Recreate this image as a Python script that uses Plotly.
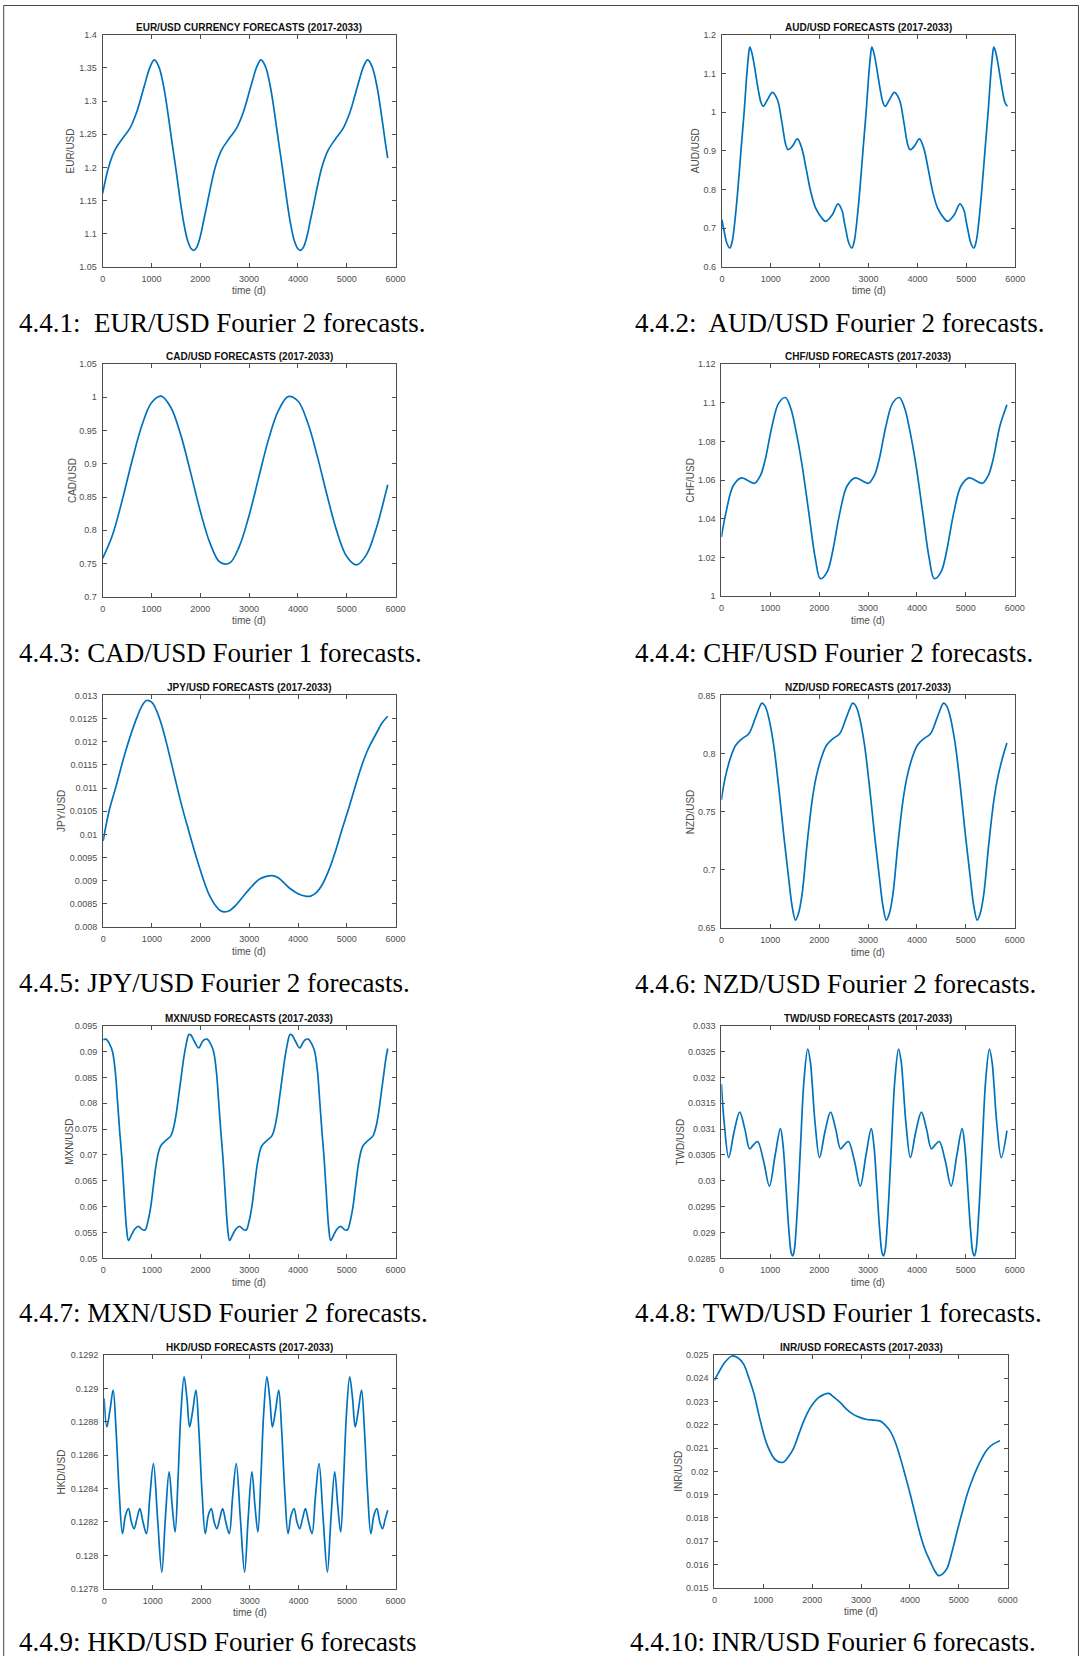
import plotly.graph_objects as go

# figure size and the measured placement of the figure on the captured page
W, H = 1089, 1661
SX, OX = 0.9885, 2.3
SY, OY = 0.993, 5.3

# ---------------- data (time in days, rate in USD) ----------------
day_ticks = [0, 1000, 2000, 3000, 4000, 5000, 6000]
day_labels = ["0", "1000", "2000", "3000", "4000", "5000", "6000"]

eur_t = [0, 120, 250, 400, 550, 700, 850, 980, 1060, 1150, 1250, 1340, 1420, 1500, 1580, 1660, 1740, 1820, 1870, 1930, 2000, 2070, 2130,
         2185, 2305, 2435, 2585, 2735, 2885, 3035, 3165, 3245, 3335, 3435, 3525, 3605, 3685, 3765, 3845, 3925, 4005, 4055, 4115, 4185, 4255, 4315,
         4370, 4490, 4620, 4770, 4920, 5070, 5220, 5350, 5430, 5520, 5620, 5710, 5790, 5840]
eur_v = [1.161, 1.200, 1.226, 1.243, 1.258, 1.284, 1.322, 1.353, 1.362, 1.352, 1.322, 1.280, 1.238, 1.198, 1.155, 1.117, 1.090, 1.077, 1.075, 1.080, 1.096, 1.120, 1.141,
         1.161, 1.200, 1.226, 1.243, 1.258, 1.284, 1.322, 1.353, 1.362, 1.352, 1.322, 1.280, 1.238, 1.198, 1.155, 1.117, 1.090, 1.077, 1.075, 1.080, 1.096, 1.120, 1.141,
         1.161, 1.200, 1.226, 1.243, 1.258, 1.284, 1.322, 1.353, 1.362, 1.352, 1.322, 1.280, 1.238, 1.214]
eur_ticks = [1.05, 1.1, 1.15, 1.2, 1.25, 1.3, 1.35, 1.4]
eur_labels = ["1.05", "1.1", "1.15", "1.2", "1.25", "1.3", "1.35", "1.4"]

aud_t = [0, 50, 100, 163, 210, 250, 320, 390, 455, 505, 540, 571, 610, 660, 748, 800, 844, 932, 1034, 1136, 1224, 1306, 1354, 1442, 1544, 1633, 1728, 1816, 1918, 2054, 2122, 2259, 2374, 2463,
         2495, 2545, 2595, 2658, 2705, 2745, 2815, 2885, 2950, 3000, 3035, 3066, 3105, 3155, 3243, 3295, 3339, 3427, 3529, 3631, 3719, 3801, 3849, 3937, 4039, 4128, 4223, 4311, 4413, 4549, 4617, 4754, 4869, 4958,
         4990, 5040, 5090, 5153, 5200, 5240, 5310, 5380, 5445, 5495, 5530, 5561, 5600, 5650, 5738, 5790, 5840]
aud_v = [0.722, 0.690, 0.662, 0.649, 0.665, 0.700, 0.790, 0.900, 1.000, 1.090, 1.140, 1.168, 1.155, 1.123, 1.055, 1.025, 1.015, 1.032, 1.051, 1.032, 0.976, 0.916, 0.903, 0.912, 0.931, 0.907, 0.851, 0.795, 0.752, 0.725, 0.718, 0.735, 0.763, 0.744,
         0.722, 0.690, 0.662, 0.649, 0.665, 0.700, 0.790, 0.900, 1.000, 1.090, 1.140, 1.168, 1.155, 1.123, 1.055, 1.025, 1.015, 1.032, 1.051, 1.032, 0.976, 0.916, 0.903, 0.912, 0.931, 0.907, 0.851, 0.795, 0.752, 0.725, 0.718, 0.735, 0.763, 0.744,
         0.722, 0.690, 0.662, 0.649, 0.665, 0.700, 0.790, 0.900, 1.000, 1.090, 1.140, 1.168, 1.155, 1.123, 1.055, 1.025, 1.015]
aud_ticks = [0.6, 0.7, 0.8, 0.9, 1.0, 1.1, 1.2]
aud_labels = ["0.6", "0.7", "0.8", "0.9", "1", "1.1", "1.2"]

cad_t = [0, 200, 400, 600, 800, 1000, 1200, 1400, 1600, 1800, 2000, 2200, 2400, 2600, 2800, 3000, 3200, 3400, 3600, 3800,
         4000, 4200, 4400, 4600, 4800, 5000, 5200, 5400, 5600, 5800, 5840]
cad_v = [0.7577, 0.7925, 0.8450, 0.9039, 0.9567, 0.9918, 1.0017, 0.9843, 0.9435, 0.8875, 0.8290, 0.7806, 0.7524, 0.7507, 0.7759, 0.8223,
         0.8803, 0.9371, 0.9798, 1.0011, 0.9944, 0.9620, 0.9108, 0.8519, 0.7980, 0.7606, 0.7480, 0.7627, 0.8015, 0.8566, 0.8685]
cad_ticks = [0.7, 0.75, 0.8, 0.85, 0.9, 0.95, 1.0, 1.05]
cad_labels = ["0.7", "0.75", "0.8", "0.85", "0.9", "0.95", "1", "1.05"]

chf_t = [0, 100, 240, 410, 540, 680, 800, 900, 1036, 1172, 1309, 1420, 1513, 1650, 1786, 1922, 2025, 2161, 2297,
         2330, 2430, 2570, 2740, 2870, 3010, 3130, 3230, 3366, 3502, 3639, 3750, 3843, 3980, 4116, 4252, 4355, 4491, 4627,
         4660, 4760, 4900, 5070, 5200, 5340, 5460, 5560, 5696, 5840]
chf_v = [1.0306, 1.0440, 1.0570, 1.0612, 1.0598, 1.0584, 1.0625, 1.0710, 1.0880, 1.0998, 1.1027, 1.0970, 1.0870, 1.0678, 1.0436, 1.0194, 1.0091, 1.0125, 1.0260,
         1.0306, 1.0440, 1.0570, 1.0612, 1.0598, 1.0584, 1.0625, 1.0710, 1.0880, 1.0998, 1.1027, 1.0970, 1.0870, 1.0678, 1.0436, 1.0194, 1.0091, 1.0125, 1.0260,
         1.0306, 1.0440, 1.0570, 1.0612, 1.0598, 1.0584, 1.0625, 1.0710, 1.0880, 1.0990]
chf_ticks = [1.0, 1.02, 1.04, 1.06, 1.08, 1.1, 1.12]
chf_labels = ["1", "1.02", "1.04", "1.06", "1.08", "1.1", "1.12"]

jpy_t = [0, 120, 260, 465, 670, 800, 890, 1000, 1100, 1200, 1300, 1450, 1600, 1750, 1900, 2050, 2174, 2300, 2400, 2502, 2600, 2730, 2857, 3000,
         3199, 3330, 3473, 3600, 3815, 4000, 4150, 4258, 4380, 4498, 4640, 4771, 4900, 5044, 5180, 5318, 5450, 5591, 5720, 5840]
jpy_v = [0.00986, 0.01050, 0.01102, 0.01181, 0.01246, 0.01278, 0.01289, 0.01285, 0.01266, 0.01236, 0.01197, 0.01132, 0.01067, 0.01010, 0.00955, 0.00905,
         0.00870, 0.00847, 0.00836, 0.00833, 0.00836, 0.00848, 0.00864, 0.00882, 0.00903, 0.00909, 0.00911, 0.00906, 0.00885, 0.00872, 0.00867, 0.00867,
         0.00875, 0.00892, 0.00925, 0.00965, 0.01010, 0.01058, 0.01106, 0.01152, 0.01187, 0.01215, 0.01240, 0.01255]
jpy_ticks = [0.008, 0.0085, 0.009, 0.0095, 0.01, 0.0105, 0.011, 0.0115, 0.012, 0.0125, 0.013]
jpy_labels = ["0.008", "0.0085", "0.009", "0.0095", "0.01", "0.0105", "0.011", "0.0115", "0.012", "0.0125", "0.013"]

nzd_t = [0, 80, 180, 290, 420, 560, 690, 780, 830, 890, 950, 1060, 1170, 1270, 1370, 1450, 1515, 1580, 1650, 1752,
         1858, 1938, 2038, 2148, 2278, 2418, 2548, 2638, 2688, 2748, 2808, 2918, 3028, 3128, 3228, 3308, 3373, 3438, 3508, 3610,
         3716, 3796, 3896, 4006, 4136, 4276, 4406, 4496, 4546, 4606, 4666, 4776, 4886, 4986, 5086, 5166, 5231, 5296, 5366, 5468,
         5574, 5654, 5754, 5840]
nzd_v = [0.7602, 0.7797, 0.7955, 0.8070, 0.8127, 0.8170, 0.8300, 0.8400, 0.8434, 0.8410, 0.8340, 0.8100, 0.7720, 0.7320, 0.6950, 0.6680, 0.6569, 0.6630, 0.6790, 0.7220,
         0.7602, 0.7797, 0.7955, 0.8070, 0.8127, 0.8170, 0.8300, 0.8400, 0.8434, 0.8410, 0.8340, 0.8100, 0.7720, 0.7320, 0.6950, 0.6680, 0.6569, 0.6630, 0.6790, 0.7220,
         0.7602, 0.7797, 0.7955, 0.8070, 0.8127, 0.8170, 0.8300, 0.8400, 0.8434, 0.8410, 0.8340, 0.8100, 0.7720, 0.7320, 0.6950, 0.6680, 0.6569, 0.6630, 0.6790, 0.7220,
         0.7602, 0.7797, 0.7970, 0.8090]
nzd_ticks = [0.65, 0.7, 0.75, 0.8, 0.85]
nzd_labels = ["0.65", "0.7", "0.75", "0.8", "0.85"]

mxn_t = [0, 60, 130, 191, 250, 294, 340, 383, 420, 450, 480, 519, 580, 650, 724, 800, 861, 920, 977, 1030, 1080, 1130, 1183, 1285, 1388, 1450, 1500, 1550, 1600, 1650, 1700, 1760, 1800, 1866, 1960, 2030,
         2075, 2135, 2205, 2266, 2325, 2369, 2415, 2458, 2495, 2525, 2555, 2594, 2655, 2725, 2799, 2875, 2936, 2995, 3052, 3105, 3155, 3205, 3258, 3360, 3463, 3525, 3575, 3625, 3675, 3725, 3775, 3835, 3875, 3941, 4035, 4105,
         4150, 4210, 4280, 4341, 4400, 4444, 4490, 4533, 4570, 4600, 4630, 4669, 4730, 4800, 4874, 4950, 5011, 5070, 5127, 5180, 5230, 5280, 5333, 5435, 5538, 5600, 5650, 5700, 5750, 5800, 5840]
mxn_v = [0.0923, 0.0924, 0.0915, 0.0900, 0.0860, 0.0805, 0.0745, 0.0695, 0.0640, 0.0595, 0.0558, 0.0535, 0.0545, 0.0557, 0.0562, 0.0556, 0.0555, 0.0572, 0.0600, 0.0640,
         0.0677, 0.0703, 0.0718, 0.0728, 0.0737, 0.0755, 0.0780, 0.0815, 0.0850, 0.0885, 0.0912, 0.0933, 0.0932, 0.0921, 0.0907, 0.0918,
         0.0923, 0.0924, 0.0915, 0.0900, 0.0860, 0.0805, 0.0745, 0.0695, 0.0640, 0.0595, 0.0558, 0.0535, 0.0545, 0.0557, 0.0562, 0.0556, 0.0555, 0.0572, 0.0600, 0.0640,
         0.0677, 0.0703, 0.0718, 0.0728, 0.0737, 0.0755, 0.0780, 0.0815, 0.0850, 0.0885, 0.0912, 0.0933, 0.0932, 0.0921, 0.0907, 0.0918,
         0.0923, 0.0924, 0.0915, 0.0900, 0.0860, 0.0805, 0.0745, 0.0695, 0.0640, 0.0595, 0.0558, 0.0535, 0.0545, 0.0557, 0.0562, 0.0556, 0.0555, 0.0572, 0.0600, 0.0640,
         0.0677, 0.0703, 0.0718, 0.0728, 0.0737, 0.0755, 0.0780, 0.0815, 0.0850, 0.0885, 0.0906]
mxn_ticks = [0.05, 0.055, 0.06, 0.065, 0.07, 0.075, 0.08, 0.085, 0.09, 0.095]
mxn_labels = ["0.05", "0.055", "0.06", "0.065", "0.07", "0.075", "0.08", "0.085", "0.09", "0.095"]

twd_t = [0, 60, 150, 260, 375, 480, 580, 660, 740, 860, 982, 1100, 1207, 1260, 1320, 1380, 1430, 1459, 1490, 1550, 1620, 1690, 1766, 1820,
         1858, 1918, 2008, 2118, 2233, 2338, 2438, 2518, 2598, 2718, 2840, 2958, 3065, 3118, 3178, 3238, 3288, 3317, 3348, 3408, 3478, 3548, 3624, 3678,
         3716, 3776, 3866, 3976, 4091, 4196, 4296, 4376, 4456, 4576, 4698, 4816, 4923, 4976, 5036, 5096, 5146, 5175, 5206, 5266, 5336, 5406, 5482, 5536,
         5574, 5634, 5724, 5840]
twd_v = [0.03187, 0.03110, 0.03045, 0.03095, 0.03133, 0.03100, 0.03062, 0.03070, 0.03076, 0.03040, 0.02990, 0.03050, 0.03101, 0.03070, 0.02990, 0.02905, 0.02860, 0.02855, 0.02865, 0.02940, 0.03070, 0.03195, 0.03255, 0.03230,
         0.03187, 0.03110, 0.03045, 0.03095, 0.03133, 0.03100, 0.03062, 0.03070, 0.03076, 0.03040, 0.02990, 0.03050, 0.03101, 0.03070, 0.02990, 0.02905, 0.02860, 0.02855, 0.02865, 0.02940, 0.03070, 0.03195, 0.03255, 0.03230,
         0.03187, 0.03110, 0.03045, 0.03095, 0.03133, 0.03100, 0.03062, 0.03070, 0.03076, 0.03040, 0.02990, 0.03050, 0.03101, 0.03070, 0.02990, 0.02905, 0.02860, 0.02855, 0.02865, 0.02940, 0.03070, 0.03195, 0.03255, 0.03230,
         0.03187, 0.03110, 0.03045, 0.03097]
twd_ticks = [0.0285, 0.029, 0.0295, 0.03, 0.0305, 0.031, 0.0315, 0.032, 0.0325, 0.033]
twd_labels = ["0.0285", "0.029", "0.0295", "0.03", "0.0305", "0.031", "0.0315", "0.032", "0.0325", "0.033"]

hkd_t = [0, 55, 120, 185, 245, 310, 377, 440, 501, 560, 617, 675, 734, 800, 871, 940, 1015, 1100, 1187, 1260, 1337, 1400, 1461, 1520, 1580, 1646,
         1705, 1760, 1825, 1890, 1950, 2015, 2082, 2145, 2206, 2265, 2322, 2380, 2439, 2505, 2576, 2645, 2720, 2805, 2892, 2965, 3042, 3105, 3166, 3225, 3285, 3351,
         3410, 3465, 3530, 3595, 3655, 3720, 3787, 3850, 3911, 3970, 4027, 4085, 4144, 4210, 4281, 4350, 4425, 4510, 4597, 4670, 4747, 4810, 4871, 4930, 4990, 5056,
         5115, 5170, 5235, 5300, 5360, 5425, 5492, 5555, 5616, 5675, 5732, 5790, 5840]
hkd_v = [0.12894, 0.12877, 0.12887, 0.12899, 0.12875, 0.12838, 0.12813, 0.12824, 0.12828, 0.12820, 0.12816, 0.12822, 0.12828, 0.12820, 0.12813, 0.12835, 0.12855, 0.12822, 0.12790, 0.12822, 0.12850, 0.12830, 0.12814, 0.12845, 0.12885, 0.12907,
         0.12894, 0.12877, 0.12887, 0.12899, 0.12875, 0.12838, 0.12813, 0.12824, 0.12828, 0.12820, 0.12816, 0.12822, 0.12828, 0.12820, 0.12813, 0.12835, 0.12855, 0.12822, 0.12790, 0.12822, 0.12850, 0.12830, 0.12814, 0.12845, 0.12885, 0.12907,
         0.12894, 0.12877, 0.12887, 0.12899, 0.12875, 0.12838, 0.12813, 0.12824, 0.12828, 0.12820, 0.12816, 0.12822, 0.12828, 0.12820, 0.12813, 0.12835, 0.12855, 0.12822, 0.12790, 0.12822, 0.12850, 0.12830, 0.12814, 0.12845, 0.12885, 0.12907,
         0.12894, 0.12877, 0.12887, 0.12899, 0.12875, 0.12838, 0.12813, 0.12824, 0.12828, 0.12820, 0.12816, 0.12822, 0.12827]
hkd_ticks = [0.1278, 0.128, 0.1282, 0.1284, 0.1286, 0.1288, 0.129, 0.1292]
hkd_labels = ["0.1278", "0.128", "0.1282", "0.1284", "0.1286", "0.1288", "0.129", "0.1292"]

inr_t = [0, 100, 200, 361, 480, 600, 700, 804, 941, 1077, 1247, 1404, 1510, 1622, 1727, 1827, 1930, 2031, 2136, 2236, 2338, 2450, 2577, 2700, 2849,
         3000, 3122, 3260, 3395, 3500, 3599, 3700, 3804, 3906, 4008, 4110, 4213, 4315, 4417, 4500, 4588, 4670, 4758, 4860, 4963, 5065, 5167, 5270,
         5372, 5475, 5576, 5700, 5840]
inr_v = [0.02391, 0.02430, 0.02465, 0.02496, 0.02488, 0.02460, 0.02405, 0.02338, 0.02216, 0.02115, 0.02050, 0.02039, 0.02062, 0.02100, 0.02160, 0.02216,
         0.02262, 0.02295, 0.02318, 0.02330, 0.02335, 0.02318, 0.02295, 0.02268, 0.02244, 0.02230, 0.02223, 0.02220, 0.02216, 0.02198, 0.02172, 0.02125,
         0.02057, 0.01980, 0.01900, 0.01812, 0.01727, 0.01660, 0.01612, 0.01575, 0.01552, 0.01560, 0.01583, 0.01655, 0.01741, 0.01822, 0.01900, 0.01962,
         0.02014, 0.02058, 0.02093, 0.02117, 0.02132]
inr_ticks = [0.015, 0.016, 0.017, 0.018, 0.019, 0.02, 0.021, 0.022, 0.023, 0.024, 0.025]
inr_labels = ["0.015", "0.016", "0.017", "0.018", "0.019", "0.02", "0.021", "0.022", "0.023", "0.024", "0.025"]

titles = ["EUR/USD CURRENCY FORECASTS (2017-2033)", "AUD/USD FORECASTS (2017-2033)",
          "CAD/USD FORECASTS (2017-2033)", "CHF/USD FORECASTS (2017-2033)",
          "JPY/USD FORECASTS (2017-2033)", "NZD/USD FORECASTS (2017-2033)",
          "MXN/USD FORECASTS (2017-2033)", "TWD/USD FORECASTS (2017-2033)",
          "HKD/USD FORECASTS (2017-2033)", "INR/USD FORECASTS (2017-2033)"]
pairs = ["EUR/USD", "AUD/USD", "CAD/USD", "CHF/USD", "JPY/USD",
         "NZD/USD", "MXN/USD", "TWD/USD", "HKD/USD", "INR/USD"]
captions = ["4.4.1:\u00a0 EUR/USD Fourier 2 forecasts.", "4.4.2:\u00a0 AUD/USD Fourier 2 forecasts.",
            "4.4.3: CAD/USD Fourier 1 forecasts.", "4.4.4: CHF/USD Fourier 2 forecasts.",
            "4.4.5: JPY/USD Fourier 2 forecasts.", "4.4.6: NZD/USD Fourier 2 forecasts.",
            "4.4.7: MXN/USD Fourier 2 forecasts.", "4.4.8: TWD/USD Fourier 1 forecasts.",
            "4.4.9: HKD/USD Fourier 6 forecasts", "4.4.10: INR/USD Fourier 6 forecasts."]

series = [(eur_t, eur_v, eur_ticks, eur_labels), (aud_t, aud_v, aud_ticks, aud_labels),
          (cad_t, cad_v, cad_ticks, cad_labels), (chf_t, chf_v, chf_ticks, chf_labels),
          (jpy_t, jpy_v, jpy_ticks, jpy_labels), (nzd_t, nzd_v, nzd_ticks, nzd_labels),
          (mxn_t, mxn_v, mxn_ticks, mxn_labels), (twd_t, twd_v, twd_ticks, twd_labels),
          (hkd_t, hkd_v, hkd_ticks, hkd_labels), (inr_t, inr_v, inr_ticks, inr_labels)]

# ---------------- page geometry (target pixels) ----------------
boxes = [(102, 35, 395, 267), (721.5, 35, 1015, 267),
         (102, 364, 395, 596.5), (721, 364, 1014.5, 596),
         (102.5, 695, 395, 926.5), (721, 695, 1014.5, 927.5),
         (102.5, 1025, 395, 1257.5), (721, 1025, 1014.5, 1257.5),
         (103.5, 1354, 395, 1587.5), (714, 1354, 1007.5, 1586.5)]
ylab_x = [70, 695, 72, 690, 61, 690, 68, 680, 61, 678]
cap_x = [16, 633, 16, 633, 16, 633, 16, 633, 16, 628]
cap_y = [323, 323, 652.5, 652.5, 982, 983, 1312.5, 1312.5, 1641, 1641]

AX = "#4d4d4d"
LINE = "#0072BD"
SANS = "Liberation Sans, Arial, sans-serif"
SERIF = "Liberation Serif, Times New Roman, serif"


def px(x):
    return min(max((x - OX) / SX / W, 0.0), 1.0)


def py(y):
    return min(max(1 - (y - OY) / SY / H, 0.0), 1.0)


fig = go.Figure()
layout = dict(width=W, height=H, autosize=False,
              margin=dict(l=0, r=0, t=0, b=0, pad=0),
              paper_bgcolor="white", plot_bgcolor="white",
              showlegend=False, font=dict(family=SANS, color=AX))
annotations = []

for i, (t, v, yt, yl) in enumerate(series):
    n = "" if i == 0 else str(i + 1)
    x0, y0, x1, y1 = boxes[i]
    fig.add_trace(go.Scatter(
        x=t, y=v, mode="lines", xaxis="x" + n, yaxis="y" + n,
        line=dict(color=LINE, width=1.7, shape="spline", smoothing=1.0),
        hoverinfo="skip"))
    common = dict(showgrid=False, zeroline=False, showline=True, linecolor=AX,
                  linewidth=1, mirror="ticks", ticks="inside", ticklen=4,
                  tickwidth=1, tickcolor=AX,
                  tickfont=dict(family=SANS, size=9, color=AX))
    layout["xaxis" + n] = dict(domain=[px(x0), px(x1)], anchor="y" + n,
                               range=[day_ticks[0], day_ticks[-1]],
                               tickvals=day_ticks, ticktext=day_labels,
                               ticklabelstandoff=3, **common)
    layout["yaxis" + n] = dict(domain=[py(y1), py(y0)], anchor="x" + n,
                               range=[yt[0], yt[-1]],
                               tickvals=yt, ticktext=yl,
                               ticklabelstandoff=3, **common)
    cx = (x0 + x1) / 2
    # panel title
    annotations.append(dict(text="<b>" + titles[i] + "</b>", x=px(cx), y=py(y0 - 7.5),
                            xref="paper", yref="paper", showarrow=False,
                            xanchor="center", yanchor="middle",
                            font=dict(family=SANS, size=10, color="#111111")))
    # x axis title
    annotations.append(dict(text="time (d)", x=px(cx), y=py(y1 + 24),
                            xref="paper", yref="paper", showarrow=False,
                            xanchor="center", yanchor="middle",
                            font=dict(family=SANS, size=10, color=AX)))
    # y axis title
    annotations.append(dict(text=pairs[i], x=px(ylab_x[i]), y=py((y0 + y1) / 2),
                            xref="paper", yref="paper", showarrow=False,
                            textangle=-90, xanchor="center", yanchor="middle",
                            font=dict(family=SANS, size=10, color=AX)))
    # figure caption
    annotations.append(dict(text=captions[i], x=px(cap_x[i]), y=py(cap_y[i]),
                            xref="paper", yref="paper", showarrow=False,
                            xanchor="left", yanchor="middle",
                            font=dict(family=SERIF, size=27, color="black")))

layout["annotations"] = annotations
# page frame along the left, top and right edges
fl, ft, fr = px(3), min(py(3), 0.9997), min(px(1086), 0.9995)
layout["shapes"] = [
    dict(type="line", xref="paper", yref="paper", x0=fl, x1=fl, y0=ft, y1=0,
         line=dict(color="#444444", width=1)),
    dict(type="line", xref="paper", yref="paper", x0=fl, x1=fr, y0=ft, y1=ft,
         line=dict(color="#444444", width=1)),
    dict(type="line", xref="paper", yref="paper", x0=fr, x1=fr, y0=ft, y1=0,
         line=dict(color="#444444", width=1)),
]
fig.update_layout(**layout)
fig.write_html("out.html")
